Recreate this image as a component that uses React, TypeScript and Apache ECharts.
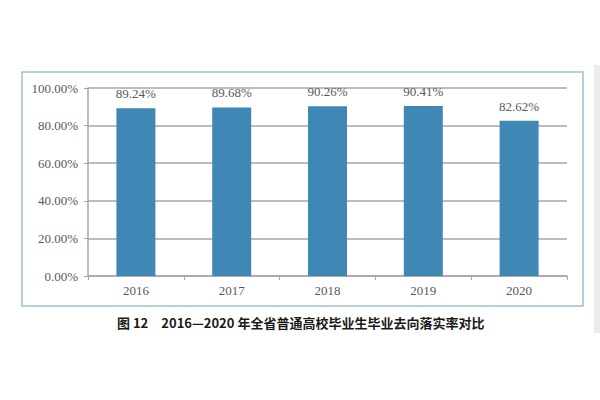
import { useEffect, useRef } from 'react'
import * as echarts from 'echarts'

const years   = ['2016', '2017', '2018', '2019', '2020']
const rates   = [0.8924, 0.8968, 0.9026, 0.9041, 0.8262]
const caption = '图 12　2016—2020 年全省普通高校毕业生毕业去向落实率对比'

const serif = '"Liberation Serif", "DejaVu Serif", serif'
const grey  = '#a6a6a6'
const text  = '#595959'

export default function App() {
  const ref = useRef<HTMLDivElement>(null)

  useEffect(() => {
    if (!ref.current) return
    const chart = echarts.init(ref.current, undefined, { renderer: 'svg' })

    chart.setOption({
      animation: false,
      backgroundColor: '#ffffff',
      grid: { left: 88, right: 33, top: 88, bottom: 124 },
      xAxis: {
        type: 'category',
        data: years,
        axisLine:  { lineStyle: { color: grey, width: 1.5 } },
        axisTick:  { show: true, length: 4, lineStyle: { color: grey } },
        axisLabel: { color: text, fontSize: 13, fontFamily: serif, margin: 8 },
      },
      yAxis: {
        type: 'value',
        min: 0, max: 1, interval: 0.2,
        axisLine:  { show: true, lineStyle: { color: grey, width: 1.5 } },
        axisTick:  { show: true, length: 4, lineStyle: { color: grey } },
        axisLabel: {
          color: text, fontSize: 13, fontFamily: serif, margin: 10,
          formatter: (v: number) => (v * 100).toFixed(2) + '%',
        },
        splitLine: { lineStyle: { color: grey, width: 1.5 } },
      },
      series: [{
        type: 'bar',
        data: rates,
        barWidth: 39,
        itemStyle: { color: '#3f88b6' },
        label: {
          show: true,
          position: 'top',
          distance: 8,
          color: text, fontSize: 13, fontFamily: serif,
          formatter: (p: any) => (p.value * 100).toFixed(2) + '%',
        },
      }],
      graphic: [
        {
          type: 'rect',
          shape: { x: 22, y: 72, width: 561, height: 234 },
          style: { fill: 'none', stroke: '#9dbfd9', lineWidth: 1.5 },
          silent: true,
        },
        {
          type: 'rect',
          shape: { x: 594, y: 65, width: 6, height: 268 },
          style: { fill: '#ececec' },
          silent: true,
        },
        {
          type: 'text',
          x: 117, y: 322,
          style: {
            text: caption,
            fill: '#1a1a1a',
            font: 'bold 13px "Noto Sans CJK SC", sans-serif',
            verticalAlign: 'middle',
          },
        },
      ],
    })

    return () => chart.dispose()
  }, [])

  return (
    <div
      ref={ref}
      style={{ position: 'absolute', left: 0, top: 0, width: 600, height: 400 }}
    />
  )
}
